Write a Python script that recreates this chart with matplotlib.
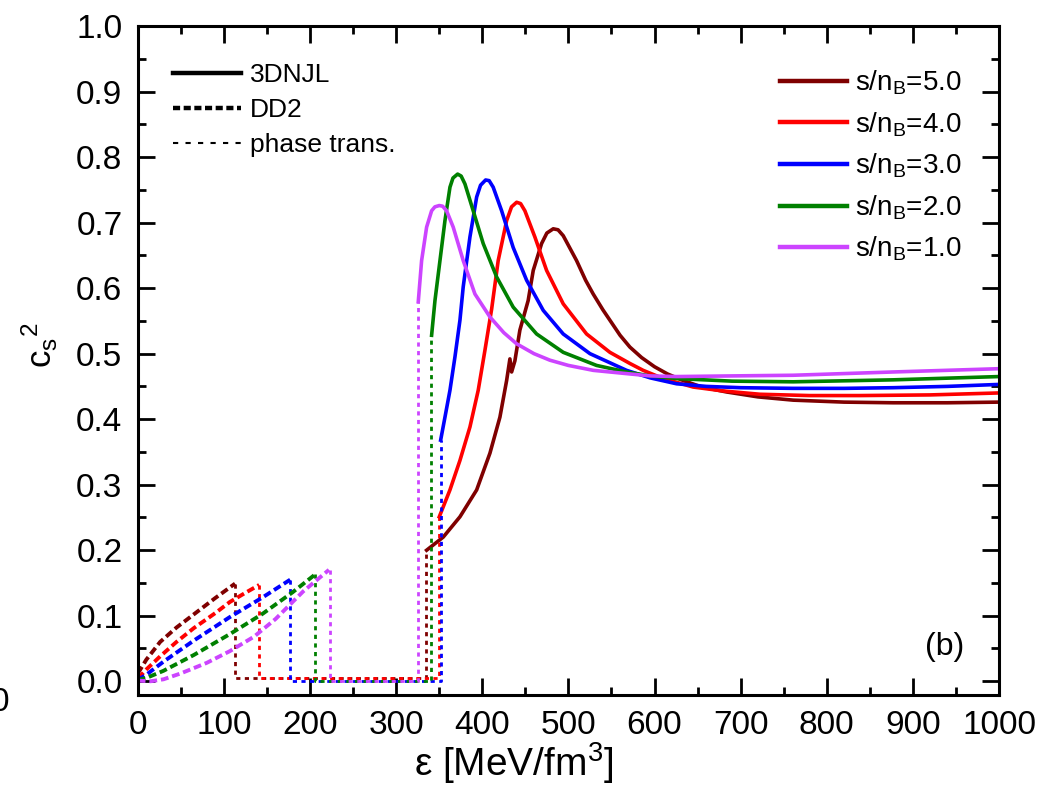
#%% Imports
import matplotlib
matplotlib.use('Agg')
import matplotlib.pyplot as plt
from matplotlib.lines import Line2D
from matplotlib.ticker import MultipleLocator, FormatStrFormatter

plt.rcParams['font.family'] = ['Liberation Sans', 'DejaVu Sans']
plt.rcParams['mathtext.fontset'] = 'custom'
plt.rcParams['mathtext.rm'] = 'Liberation Sans'
plt.rcParams['mathtext.it'] = 'Liberation Sans'

#%% Data
labels = ['5.0', '4.0', '3.0', '2.0', '1.0']
colors = ['#7f0000', '#ff0000', '#0000ff', '#008000', '#cc44ff']

# DD2 (hadronic branch, dashed)
dd2_x = [
    [0, 3, 10, 26, 45, 65, 90, 113],
    [0, 3, 10, 26, 45, 65, 90, 107, 125, 141],
    [0, 10, 30, 65, 107, 145, 177],
    [0, 10, 30, 65, 107, 145, 180, 206],
    [0, 15, 30, 50, 80, 107, 135, 160, 192, 222],
]
dd2_y = [
    [0.012, 0.018, 0.033, 0.060, 0.082, 0.102, 0.127, 0.149],
    [0.005, 0.008, 0.018, 0.038, 0.060, 0.081, 0.104, 0.121, 0.135, 0.147],
    [0.002, 0.010, 0.030, 0.062, 0.098, 0.128, 0.155],
    [0.002, 0.005, 0.016, 0.040, 0.072, 0.103, 0.136, 0.163],
    [0.001, 0.000, 0.003, 0.012, 0.028, 0.046, 0.068, 0.095, 0.137, 0.170],
]

# phase transition (dotted)
pt_x = [
    [113, 113, 335, 335],
    [141, 141, 350, 350],
    [177, 177, 352.5, 352.5],
    [206, 206, 341, 341],
    [223, 223, 325.7, 325.7],
]
pt_y = [
    [0.149, 0.005, 0.005, 0.200],
    [0.147, 0.005, 0.005, 0.251],
    [0.155, 0.000, 0.000, 0.368],
    [0.163, 0.000, 0.000, 0.528],
    [0.170, 0.000, 0.000, 0.579],
]

# 3DNJL (quark branch, solid)
njl_x = [
    [335.4, 354.7, 374.1, 393.5, 408.9, 420.5, 428.3, 432.1, 434.1, 437.9, 443.7,
     453.3, 459.2, 468.9, 475, 482.4, 488, 494, 509.5, 520, 528.8, 540, 548.2,
     560, 571.4, 585, 600, 615, 633.2, 655, 683.6, 720, 761, 820, 877, 940, 1000],
    [350.1, 362.5, 374.1, 385.7, 395.3, 403.1, 410.9, 418.5, 428.3, 434, 439.9,
     444.5, 449.5, 461.1, 474.7, 494, 521.1, 548.2, 571.4, 586.8, 610, 644.9,
     680, 722.3, 780, 838.3, 920, 1000],
    [351.7, 356.7, 362.5, 368.3, 374.1, 377.9, 385.7, 393.5, 398, 403.9, 408,
     412.7, 422.5, 435.9, 451.5, 470.8, 494, 525, 567.5, 595, 625.6, 660, 700,
     761, 820, 877, 940, 1000],
    [341.2, 345.1, 350.9, 356.7, 362.5, 366, 371.4, 375.5, 379.9, 389.5, 401.1,
     416.7, 435.9, 463.1, 494, 532.7, 567.5, 595, 625.6, 690, 761, 877, 1000],
    [325.7, 329.6, 335.4, 341.2, 345, 350.1, 354, 358.6, 366.3, 377.9, 391.5,
     408.9, 425, 439.9, 460, 478.5, 500, 528.8, 567.5, 595, 625.6, 690, 761, 877,
     1000],
]
njl_y = [
    [0.200, 0.220, 0.251, 0.292, 0.348, 0.403, 0.459, 0.492, 0.472, 0.489, 0.536,
     0.581, 0.627, 0.668, 0.684, 0.6905, 0.689, 0.680, 0.642, 0.612, 0.591, 0.567,
     0.551, 0.528, 0.510, 0.494, 0.480, 0.469, 0.459, 0.449, 0.4415, 0.434, 0.429,
     0.426, 0.425, 0.425, 0.426],
    [0.251, 0.292, 0.337, 0.388, 0.444, 0.505, 0.568, 0.642, 0.703, 0.724, 0.731,
     0.729, 0.718, 0.678, 0.627, 0.576, 0.530, 0.502, 0.485, 0.4745, 0.462, 0.449,
     0.443, 0.438, 0.436, 0.436, 0.437, 0.440],
    [0.368, 0.403, 0.444, 0.495, 0.551, 0.602, 0.678, 0.739, 0.757, 0.765, 0.764,
     0.754, 0.718, 0.662, 0.612, 0.566, 0.530, 0.500, 0.4745, 0.463, 0.454, 0.450,
     0.448, 0.447, 0.447, 0.448, 0.450, 0.453],
    [0.528, 0.581, 0.642, 0.703, 0.754, 0.768, 0.774, 0.771, 0.759, 0.718, 0.668,
     0.617, 0.571, 0.530, 0.502, 0.482, 0.472, 0.466, 0.462, 0.458, 0.457, 0.460,
     0.465],
    [0.579, 0.642, 0.693, 0.718, 0.724, 0.726, 0.725, 0.718, 0.693, 0.642, 0.591,
     0.556, 0.532, 0.515, 0.500, 0.490, 0.482, 0.4745, 0.4695, 0.466, 0.465,
     0.466, 0.467, 0.472, 0.477],
]

#%% Plot
fig = plt.figure(figsize=(10.41, 7.88), dpi=100)
ax = fig.add_axes([0.1323, 0.118, 0.8274, 0.849])

for i in range(len(labels)):
    ax.plot(dd2_x[i], dd2_y[i], color=colors[i], lw=2.8, ls=(0, (2.0, 1.0)))
    ax.plot(pt_x[i], pt_y[i], color=colors[i], lw=2.0, ls=(0, (1.5, 1.6)))
    ax.plot(njl_x[i], njl_y[i], color=colors[i], lw=2.6)

ax.set_xlim(0, 1000)
ax.set_ylim(-0.021, 1.0)
ax.xaxis.set_major_locator(MultipleLocator(100))
ax.xaxis.set_minor_locator(MultipleLocator(50))
ax.yaxis.set_major_locator(MultipleLocator(0.1))
ax.yaxis.set_minor_locator(MultipleLocator(0.05))
ax.yaxis.set_major_formatter(FormatStrFormatter('%.1f'))
ax.tick_params(which='both', direction='in', top=True, right=True, width=2,
               labelsize=24)
ax.tick_params(which='major', length=12, pad=11)
ax.tick_params(which='minor', length=6)
for side in ax.spines.values():
    side.set_linewidth(2.2)

ax.set_xlabel(r'ε [MeV/fm$^3$]', fontsize=28)
ax.xaxis.set_label_coords(0.437, -0.068)

# y label
fig.text(0.038, 0.562, r'c$_s{}^2$', fontsize=25, rotation=90,
         ha='center', va='center')

# line style legend
style_handles = [
    Line2D([], [], color='black', lw=3.2),
    Line2D([], [], color='black', lw=3.2, ls=(0, (1.6, 0.8))),
    Line2D([], [], color='black', lw=1.5, ls=(0, (2.5, 3.5))),
]
leg1 = ax.legend(style_handles, ['3DNJL', 'DD2', 'phase trans.'],
                 loc='upper left', bbox_to_anchor=(0.029, 0.960), frameon=False,
                 fontsize=19, handlelength=2.55, handletextpad=0.35,
                 labelspacing=0.42, borderaxespad=0)
ax.add_artist(leg1)

color_handles = [Line2D([], [], color=c, lw=3.2) for c in colors]
ax.legend(color_handles, [rf's/n$_\mathrm{{B}}$={s}' for s in labels],
          loc='upper left', bbox_to_anchor=(0.733, 0.953), frameon=False,
          fontsize=20, handlelength=2.4, handletextpad=0.3,
          labelspacing=0.47, borderaxespad=0)

ax.text(0.937, 0.072, '(b)', transform=ax.transAxes, fontsize=23,
        ha='center', va='center')

# label of the neighbouring panel, cut at the edge
fig.text(0.0, 0.108, '0', fontsize=24, ha='center', va='center')

fig.savefig('out.png', dpi=100)
